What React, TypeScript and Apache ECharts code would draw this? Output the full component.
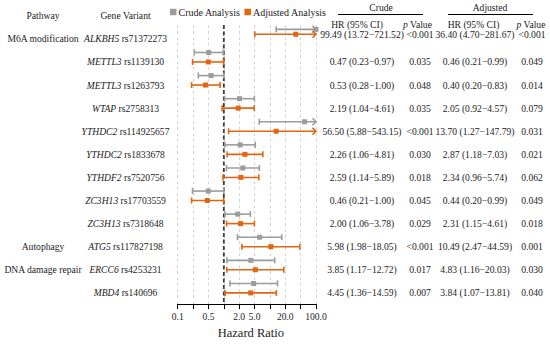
import React, { useEffect, useRef } from "react";
import * as echarts from "echarts";

// ---------- data ----------
const pathways = ["M6A modification", "", "", "", "", "", "", "", "", "Autophagy", "DNA damage repair", ""];
const genes = ["ALKBH5", "METTL3", "METTL3", "WTAP", "YTHDC2", "YTHDC2", "YTHDF2", "ZC3H13", "ZC3H13", "ATG5", "ERCC6", "MBD4"];
const variants = ["rs71372273", "rs1139130", "rs1263793", "rs2758313", "rs114925657", "rs1833678", "rs7520756", "rs17703559", "rs7318648", "rs117827198", "rs4253231", "rs140696"];
const crudeHR = [99.49, 0.47, 0.53, 2.19, 56.5, 2.26, 2.59, 0.46, 2.0, 5.98, 3.85, 4.45];
const crudeLow = [13.72, 0.23, 0.28, 1.04, 5.88, 1.06, 1.14, 0.21, 1.06, 1.98, 1.17, 1.36];
const crudeHigh = [721.52, 0.97, 1.0, 4.61, 543.15, 4.81, 5.89, 1.0, 3.78, 18.05, 12.72, 14.59];
const crudeP = ["<0.001", "0.035", "0.048", "0.035", "<0.001", "0.030", "0.018", "0.045", "0.029", "<0.001", "0.017", "0.007"];
const adjHR = [36.4, 0.46, 0.4, 2.05, 13.7, 2.87, 2.34, 0.44, 2.31, 10.49, 4.83, 3.84];
const adjLow = [4.7, 0.21, 0.2, 0.92, 1.27, 1.18, 0.96, 0.2, 1.15, 2.47, 1.16, 1.07];
const adjHigh = [281.67, 0.99, 0.83, 4.57, 147.79, 7.03, 5.74, 0.99, 4.61, 44.59, 20.03, 13.81];
const adjP = ["<0.001", "0.049", "0.014", "0.079", "0.031", "0.021", "0.062", "0.049", "0.018", "0.001", "0.030", "0.040"];
// axis ticks every third of a decade, from 0.1 to 100
const tickLabels = ["0.1", "", "0.5", "", "2.0", "5.0", "", "20.0", "", "100.0"];

// ---------- styling ----------
const FONT = "Liberation Serif";
const TXT = "#1c1c1c";
const GREY = "#9c9c9c";
const ORANGE = "#e2650f";
const FS = 9.6;

const toX = (v: number) => 3 * Math.log10(v); // thirds of a decade
const fmt = (h: number, l: number, u: number) => `${h.toFixed(2)} (${l.toFixed(2)}\u2212${u.toFixed(2)})`;

const crudeY = (i: number) => i - 0.41;
const adjY = (i: number) => (i === 0 ? i - 0.2 : i);

function barRender(color: string) {
  return (params: any, api: any) => {
    const xMax = 6;
    const lo = api.value(0);
    const hi = api.value(1);
    const pt = api.value(2);
    const yv = api.value(3);
    const y = api.coord([0, yv])[1];
    const xL = api.coord([lo, yv])[0];
    const clipped = hi > xMax;
    const xR = api.coord([Math.min(hi, xMax), yv])[0];
    const xP = api.coord([Math.min(pt, xMax), yv])[0];
    const st = { stroke: color, lineWidth: 1.6, fill: null };
    const children: any[] = [
      { type: "line", shape: { x1: xL, y1: y, x2: xR, y2: y }, style: st },
      { type: "line", shape: { x1: xL, y1: y - 3, x2: xL, y2: y + 3 }, style: st },
      clipped
        ? { type: "polyline", shape: { points: [[xR - 3.5, y - 3.5], [xR, y], [xR - 3.5, y + 3.5]] }, style: st }
        : { type: "line", shape: { x1: xR, y1: y - 3, x2: xR, y2: y + 3 }, style: st },
      { type: "rect", shape: { x: xP - 2.5, y: y - 2.5, width: 5, height: 5 }, style: { fill: color } },
    ];
    return { type: "group", children };
  };
}

function text(x: number, y: number, t: string, extra: any = {}) {
  return {
    type: "text",
    x,
    y,
    silent: true,
    style: {
      text: t,
      fill: TXT,
      fontSize: FS,
      fontFamily: FONT,
      textAlign: "center",
      textVerticalAlign: "middle",
      align: "center",
      verticalAlign: "middle",
      rich: {
        i: { fontStyle: "italic", fontSize: FS, fontFamily: FONT, fill: TXT },
        n: { fontSize: FS, fontFamily: FONT, fill: TXT },
      },
      ...extra,
    },
  };
}

export default function App() {
  const ref = useRef<HTMLDivElement>(null);
  useEffect(() => {
    if (!ref.current) return;
    const chart = echarts.init(ref.current, null, { renderer: "svg" });
    const crudeData = genes.map((_, i) => [toX(crudeLow[i]), toX(crudeHigh[i]), toX(crudeHR[i]), crudeY(i)]);
    const adjData = genes.map((_, i) => [toX(adjLow[i]), toX(adjHigh[i]), toX(adjHR[i]), adjY(i)]);

    chart.setOption({
      animation: false,
      textStyle: { fontFamily: FONT },
      grid: { left: 177.7, right: 234, top: 25, bottom: 32.5 },
      legend: {
        data: ["Crude Analysis", "Adjusted Analysis"],
        left: 170,
        top: 7,
        padding: 0,
        icon: "rect",
        itemWidth: 6.5,
        itemHeight: 6.5,
        itemGap: 4,
        textStyle: { fontSize: 10, fontFamily: FONT, color: TXT, padding: [0, 0, 0, -3] },
      },
      xAxis: {
        type: "value",
        min: -3,
        max: 6,
        interval: 1,
        name: "Hazard Ratio",
        nameLocation: "middle",
        nameGap: 20,
        nameTextStyle: { fontSize: 12.5, fontFamily: FONT, color: TXT, padding: [0, 0, 0, 8] },
        axisLine: { onZero: false, lineStyle: { color: "#000", width: 1 } },
        axisTick: { show: true, length: 5, lineStyle: { color: "#000", width: 1 } },
        axisLabel: {
          margin: 7,
          fontSize: FS,
          fontFamily: FONT,
          color: TXT,
          formatter: (v: number) => tickLabels[Math.round(v) + 3] ?? "",
        },
        splitLine: { show: true, lineStyle: { color: "#d6d6d6", type: [3, 3], width: 1 } },
      },
      yAxis: { type: "value", min: -0.6, max: 11.485, inverse: true, show: false, splitLine: { show: false } },
      series: [
        {
          type: "custom",
          name: "ref",
          data: [[0]],
          renderItem: (params: any, api: any) => {
            const cs = params.coordSys;
            const x = api.coord([api.value(0), 0])[0];
            return {
              type: "line",
              shape: { x1: x, y1: cs.y, x2: x, y2: cs.y + cs.height },
              style: { stroke: "#3c3c3c", lineWidth: 1.8, lineDash: [4, 2.5] },
            };
          },
        },
        {
          type: "custom",
          name: "Crude Analysis",
          itemStyle: { color: GREY },
          data: crudeData,
          renderItem: barRender(GREY),
        },
        {
          type: "custom",
          name: "Adjusted Analysis",
          itemStyle: { color: ORANGE },
          data: adjData,
          renderItem: barRender(ORANGE),
        },
      ],
    });

    const py = (v: number) => chart.convertToPixel({ xAxisIndex: 0, yAxisIndex: 0 }, [0, v])[1];
    const g: any[] = [];
    g.push(text(43, 15, "Pathway"));
    g.push(text(125.5, 15, "Gene Variant"));
    g.push(text(381, 7.5, "Crude"));
    g.push(text(490, 7.5, "Adjusted"));
    g.push({ type: "line", shape: { x1: 338, y1: 14.5, x2: 423, y2: 14.5 }, style: { stroke: "#000", lineWidth: 1 } });
    g.push({ type: "line", shape: { x1: 448, y1: 14.5, x2: 533, y2: 14.5 }, style: { stroke: "#000", lineWidth: 1 } });
    g.push(text(357, 24.5, "HR (95% CI)"));
    g.push(text(417.5, 24.5, "{i|p} Value"));
    g.push(text(473.5, 24.5, "HR (95% CI)"));
    g.push(text(531, 24.5, "{i|p} Value"));
    genes.forEach((gname, i) => {
      const yr = py(i);
      const ya = py(adjY(i));
      if (pathways[i]) g.push(text(43, yr, pathways[i]));
      g.push(text(125.5, yr, `{i|${gname}} ${variants[i]}`));
      g.push(text(362, ya, fmt(crudeHR[i], crudeLow[i], crudeHigh[i])));
      g.push(text(420, ya, crudeP[i]));
      g.push(text(475, ya, fmt(adjHR[i], adjLow[i], adjHigh[i])));
      g.push(text(532, ya, adjP[i]));
    });
    chart.setOption({ graphic: { elements: g } });

    return () => chart.dispose();
  }, []);
  return <div ref={ref} style={{ position: "fixed", left: 0, top: 0, width: 550, height: 344, background: "#fff" }} />;
}
